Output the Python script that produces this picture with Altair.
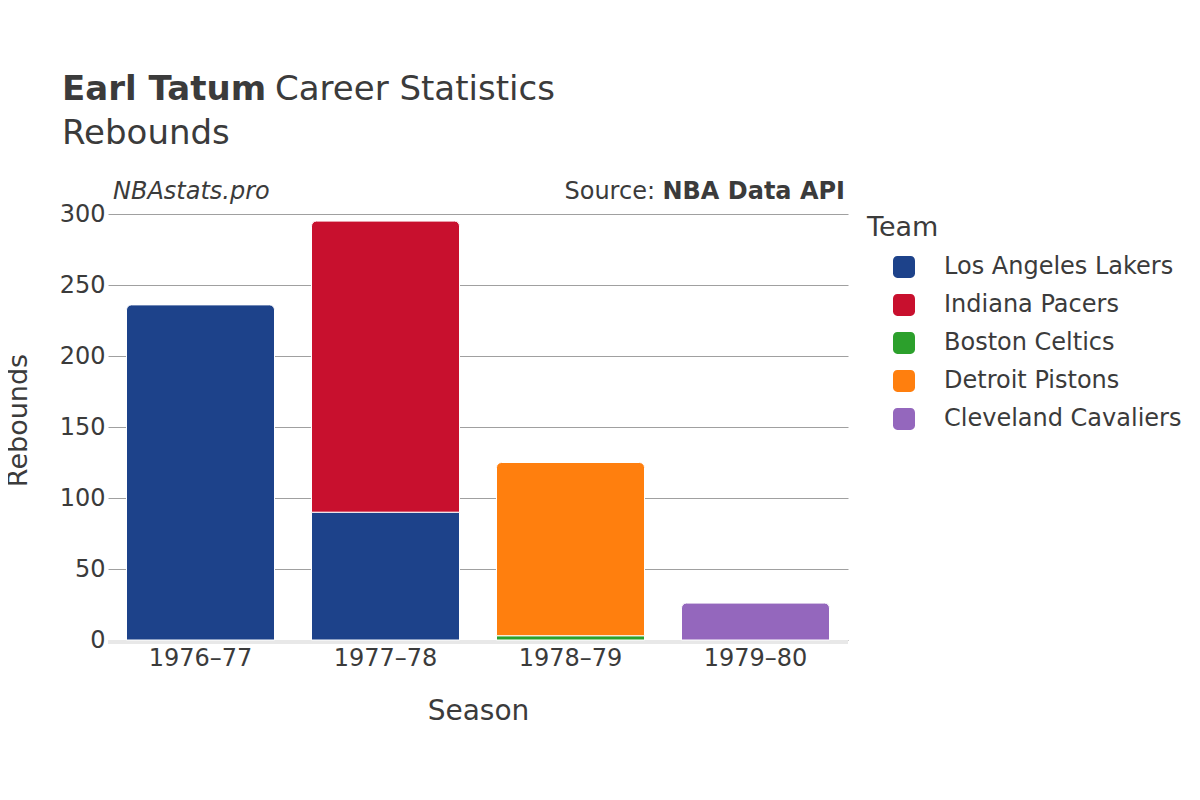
import altair as alt
import pandas as pd

seasons = ["1976–77", "1977–78", "1977–78", "1978–79", "1978–79", "1979–80"]
teams = ["Los Angeles Lakers", "Los Angeles Lakers", "Indiana Pacers",
         "Boston Celtics", "Detroit Pistons", "Cleveland Cavaliers"]
rebounds = [236, 90, 205, 3, 122, 26]

team_order = ["Los Angeles Lakers", "Indiana Pacers", "Boston Celtics",
              "Detroit Pistons", "Cleveland Cavaliers"]
team_colors = ["#1d428a", "#c8102e", "#2ca02c", "#ff7f0e", "#9467bd"]
season_order = ["1976–77", "1977–78", "1978–79", "1979–80"]

df = pd.DataFrame({
    "Season": seasons,
    "Team": teams,
    "Rebounds": rebounds,
    "ord": [team_order.index(t) for t in teams],
})

TXT = "#3b3b3b"
FONT = "DejaVu Sans"
W, H = 740, 426

base = alt.Chart(df).transform_stack(
    stack="Rebounds", groupby=["Season"], as_=["y0", "y1"],
    sort=[alt.SortField("ord", order="ascending")]
).transform_joinaggregate(
    ymax="max(y1)", groupby=["Season"]
).transform_calculate(
    is_top="datum.y1 == datum.ymax ? 1 : 0"
)

x_enc = alt.X("Season:N", sort=season_order,
              scale=alt.Scale(paddingInner=0.2, paddingOuter=0.1),
              axis=alt.Axis(title="Season", labelAngle=0, labelFontSize=24,
                            titleFontSize=28, labelPadding=6, titlePadding=27,
                            ticks=False, domain=False, grid=False,
                            labelColor=TXT, titleColor=TXT,
                            titleFontWeight="normal"))
y_enc = alt.Y("y0:Q", scale=alt.Scale(domain=[0, 300], nice=False),
              axis=alt.Axis(title="Rebounds", values=[0, 50, 100, 150, 200, 250, 300],
                            labelFontSize=24, titleFontSize=27, labelPadding=3,
                            titlePadding=27, titleY=206, ticks=False, domain=False,
                            grid=True, gridColor="#a0a0a0", gridWidth=1,
                            labelColor=TXT, titleColor=TXT,
                            titleFontWeight="normal"))
color_enc = alt.Color("Team:N", scale=alt.Scale(domain=team_order, range=team_colors),
                      legend=alt.Legend(title=None))

rounded = "M-1,-0.6 A0.4,0.4 0 0 1 -0.6,-1 L0.6,-1 A0.4,0.4 0 0 1 1,-0.6 L1,0.6 A0.4,0.4 0 0 1 0.6,1 L-0.6,1 A0.4,0.4 0 0 1 -1,0.6 Z"

lower = base.transform_filter("datum.is_top == 0").mark_bar(
    stroke="white", strokeWidth=1
).encode(x=x_enc, y=y_enc, y2="y1:Q", color=color_enc)

upper = base.transform_filter("datum.is_top == 1").mark_bar(
    stroke="white", strokeWidth=1, cornerRadiusTopLeft=5, cornerRadiusTopRight=5
).encode(x=x_enc, y=y_enc, y2="y1:Q", color=color_enc)

zero = alt.Chart(pd.DataFrame({"z": [0]})).mark_rule(
    color="#e8e8e8", strokeWidth=4, yOffset=2
).encode(y="z:Q")


def txt(text, x, y, size, weight="normal", style="normal", align="left"):
    return alt.Chart(pd.DataFrame({"t": [text]})).mark_text(
        align=align, baseline="alphabetic", fontSize=size, fontWeight=weight,
        fontStyle=style, color=TXT, font=FONT
    ).encode(x=alt.value(x), y=alt.value(y), text="t:N")


annotations = [
    txt("Earl Tatum", -46, -114, 34, weight="bold"),
    txt("Career Statistics", 167, -114, 34),
    txt("Rebounds", -46, -70, 34),
    txt("NBAstats.pro", 5, -15, 24, style="italic"),
    txt("NBA Data API", 737, -15, 24, weight="bold", align="right"),
    txt("Source:", 547, -15, 24, align="right"),
    txt("Team", 759, 22, 27),
]

chart = alt.layer(zero, lower, upper, *annotations).properties(
    width=W, height=H,
    autosize=alt.AutoSizeParams(type="none"),
    padding={"left": 100, "top": 206, "right": 344, "bottom": 152},
).configure(font=FONT).configure_view(stroke=None).configure_legend(
    orient="none", legendX=784, legendY=41, symbolType=rounded,
    symbolSize=484, symbolStrokeWidth=0, labelFontSize=24, labelColor=TXT,
    labelOffset=28, rowPadding=14, labelFont=FONT, labelLimit=0
)

chart.save("out.html", embed_options={"renderer": "svg", "actions": False})
